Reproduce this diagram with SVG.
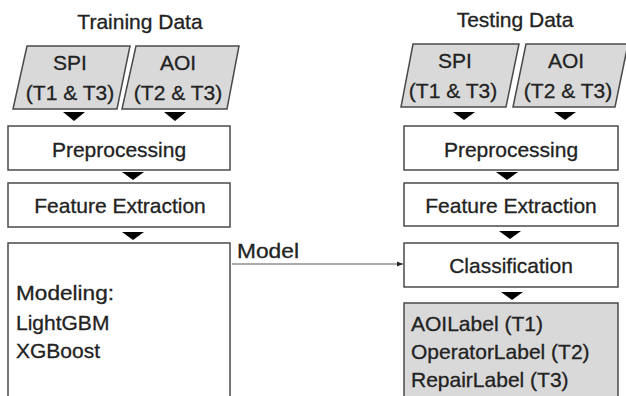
<svg xmlns="http://www.w3.org/2000/svg" width="626" height="396" viewBox="0 0 626 396">
  <defs>
    <style>
      text { font-family: "Liberation Sans", Arial, sans-serif; font-size: 21px; fill: #222222; stroke: #222222; stroke-width: 0.3; }
      .c { text-anchor: middle; }
      .box { fill: #ffffff; stroke: #4a4a4a; stroke-width: 1.5; }
      .data { fill: #d9d9d9; stroke: #4a4a4a; stroke-width: 1.5; }
      .tri { fill: #000000; }
      .link { stroke: #595959; stroke-width: 1; fill: none; }
    </style>
    <marker id="head" markerWidth="6" markerHeight="6" refX="6" refY="3" orient="auto" markerUnits="userSpaceOnUse">
      <path d="M0,0.5 L6,3 L0,5.5 Z" fill="#262626"/>
    </marker>
  </defs>

  <rect width="626" height="396" fill="#ffffff"/>

  <!-- titles -->
  <text class="c" x="140" y="29">Training Data</text>
  <text class="c" x="515" y="27">Testing Data</text>

  <!-- training branch -->
  <g id="train-spi">
    <polygon class="data" points="27,46 130,46 117,109 13,109"/>
    <text class="c" x="70" y="70">SPI</text>
    <text class="c" x="70" y="100">(T1 &amp; T3)</text>
  </g>
  <g id="train-aoi">
    <polygon class="data" points="136,46 239,46 227,109 122,109"/>
    <text class="c" x="178" y="70">AOI</text>
    <text class="c" x="178" y="100">(T2 &amp; T3)</text>
  </g>
  <g id="train-pre">
    <rect class="box" x="8" y="126" width="222" height="44"/>
    <text class="c" x="119" y="157">Preprocessing</text>
  </g>
  <g id="train-feat">
    <rect class="box" x="8" y="183" width="222" height="44"/>
    <text class="c" x="120" y="213">Feature Extraction</text>
  </g>
  <g id="train-model">
    <rect class="box" x="8" y="243" width="222" height="170"/>
    <text x="16" y="300" textLength="98" lengthAdjust="spacingAndGlyphs">Modeling:</text>
    <text x="16" y="330">LightGBM</text>
    <text x="16" y="358">XGBoost</text>
  </g>

  <!-- testing branch -->
  <g id="test-spi">
    <polygon class="data" points="413,44 519,44 506,107 401,107"/>
    <text class="c" x="455" y="68">SPI</text>
    <text class="c" x="453" y="98">(T1 &amp; T3)</text>
  </g>
  <g id="test-aoi">
    <polygon class="data" points="526,44 628,44 615,107 513,107"/>
    <text class="c" x="566" y="68">AOI</text>
    <text class="c" x="568" y="98">(T2 &amp; T3)</text>
  </g>
  <g id="test-pre">
    <rect class="box" x="404" y="126" width="214" height="44"/>
    <text class="c" x="511" y="157">Preprocessing</text>
  </g>
  <g id="test-feat">
    <rect class="box" x="404" y="183" width="214" height="43"/>
    <text class="c" x="511" y="213">Feature Extraction</text>
  </g>
  <g id="test-class">
    <rect class="box" x="404" y="243" width="214" height="44"/>
    <text class="c" x="511" y="273">Classification</text>
  </g>
  <g id="test-labels">
    <rect class="data" x="404" y="303" width="214" height="110"/>
    <text x="411" y="331">AOILabel (T1)</text>
    <text x="411" y="359">OperatorLabel (T2)</text>
    <text x="411" y="387">RepairLabel (T3)</text>
  </g>

  <!-- connectors -->
  <g id="connectors">
    <polygon class="tri" points="63,112 85,112 74,121"/>
    <polygon class="tri" points="164,112 186,112 175,121"/>
    <polygon class="tri" points="122,172 144,172 133,180"/>
    <polygon class="tri" points="122,232 144,232 133,240"/>
    <polygon class="tri" points="453,112 475,112 464,120"/>
    <polygon class="tri" points="554,112 576,112 565,120"/>
    <polygon class="tri" points="496,172 518,172 507,180"/>
    <polygon class="tri" points="499,231 521,231 510,239"/>
    <polygon class="tri" points="501,292 523,292 512,300"/>
    <line class="link" x1="232" y1="264" x2="403" y2="264" marker-end="url(#head)"/>
    <text x="237" y="258" textLength="62" lengthAdjust="spacingAndGlyphs">Model</text>
  </g>
</svg>
